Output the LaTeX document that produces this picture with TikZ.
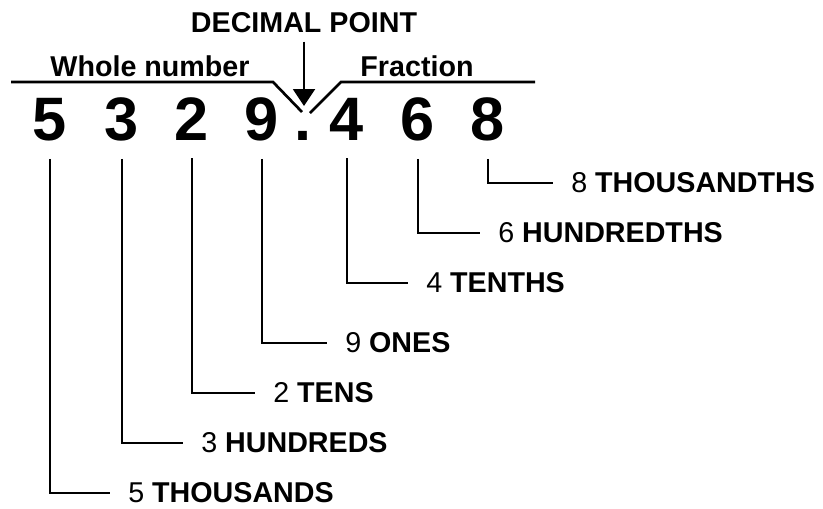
\documentclass[tikz,border=0pt]{standalone}
\usepackage{fontspec}
\setmainfont{Liberation Sans}
\usetikzlibrary{arrows.meta}

\begin{document}
\begin{tikzpicture}[
        x=0.75pt, y=-0.75pt,
        digit/.style={
            anchor=base,
            inner xsep=0pt,
            inner ysep=13.5pt,
            font=\fontsize{46}{46}\selectfont\bfseries
        },
        place/.style={
            anchor=west,
            inner xsep=13.5pt,
            inner ysep=0pt,
            font=\fontsize{21.5}{24}\selectfont
        },
        head/.style={
            anchor=base,
            inner xsep=0pt,
            inner ysep=6.75pt,
            font=\fontsize{21.5}{24}\selectfont\bfseries
        },
        tick/.style={line width=2pt}
    ]
        \useasboundingbox (0,0) rectangle (823,508);

        % the number
        \node[digit] (thousands) at (50,140) {5};
        \node[digit] (hundreds) at (122,140) {3};
        \node[digit] (tens) at (192,140) {2};
        \node[digit] (ones) at (262,140) {9};
        \node[digit] (point) at (303,140) {.};
        \node[digit] (tenths) at (347,140) {4};
        \node[digit] (hundredths) at (418,140) {6};
        \node[digit] (thousandths) at (488,140) {8};

        % headings
        \node[head] (decimal) at (304,32) {DECIMAL POINT};
        \node[head] (whole) at (150,76) {Whole number};
        \node[head] (fraction) at (417,76) {Fraction};
        \coordinate (tip) at (304,106);

        \draw[tick] (11,82) -- (273,82) -- (302,112);
        \draw[tick] (535,82) -- (341,82) -- (310,113);
        \draw[line width=1.5pt, -{Triangle[width=16.5pt,length=12.75pt]}]
            (decimal.south) -- (tip);

        % place values
        \node[place] (lthousands) at (110,493) {5 \textbf{THOUSANDS}};
        \node[place] (lhundreds) at (183,443) {3 \textbf{HUNDREDS}};
        \node[place] (ltens) at (255,393) {2 \textbf{TENS}};
        \node[place] (lones) at (327,343) {9 \textbf{ONES}};
        \node[place] (ltenths) at (408,283) {4 \textbf{TENTHS}};
        \node[place] (lhundredths) at (480,233) {6 \textbf{HUNDREDTHS}};
        \node[place] (lthousandths) at (553,183) {8 \textbf{THOUSANDTHS}};

        \draw[tick] (thousands.south) |- (lthousands.west);
        \draw[tick] (hundreds.south) |- (lhundreds.west);
        \draw[tick] (tens.south) |- (ltens.west);
        \draw[tick] (ones.south) |- (lones.west);
        \draw[tick] (tenths.south) |- (ltenths.west);
        \draw[tick] (hundredths.south) |- (lhundredths.west);
        \draw[tick] (thousandths.south) |- (lthousandths.west);
    \end{tikzpicture}
\end{document}
